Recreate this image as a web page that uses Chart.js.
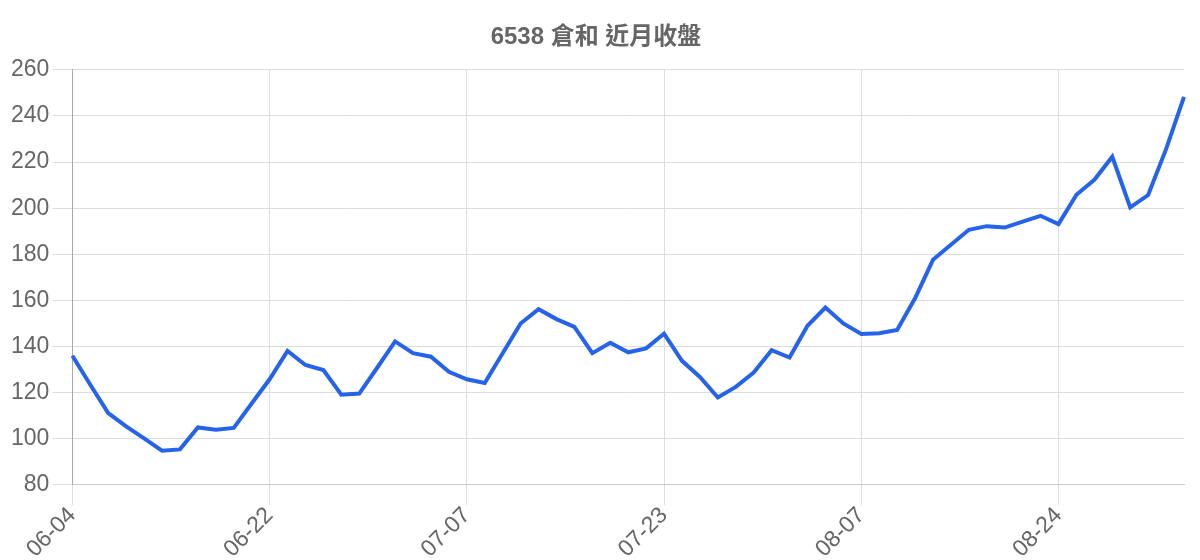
<!DOCTYPE html>
<html>
<head>
<meta charset="utf-8">
<title>6538 倉和 近月收盤</title>
<script src="https://cdn.jsdelivr.net/npm/chart.js@4.4.1/dist/chart.umd.min.js"></script>
<style>
	html, body { margin: 0; padding: 0; background: #fff; }
	#wrap { width: 1200px; height: 560px; }
</style>
</head>
<body>
<div id="wrap"><canvas id="mycanvas"></canvas></div>
<script>
var chartTitle = "6538 倉和 近月收盤";

var dates = [
	"06-04", "06-05", "06-06", "06-09", "06-10", "06-11", "06-12", "06-13", "06-16", "06-17", "06-18",
	"06-22", "06-23", "06-24", "06-25", "06-26", "06-29", "06-30", "07-01", "07-02", "07-03", "07-06",
	"07-07", "07-08", "07-09", "07-10", "07-13", "07-14", "07-15", "07-16", "07-17", "07-20", "07-21",
	"07-23", "07-24", "07-27", "07-28", "07-29", "07-30", "07-31", "08-03", "08-04", "08-05", "08-06",
	"08-07", "08-10", "08-11", "08-12", "08-13", "08-14", "08-17", "08-18", "08-19", "08-20", "08-21",
	"08-24", "08-25", "08-26", "08-27", "08-28", "08-31", "09-01", "09-02"
];

var closePrice = [
	136, 123.4, 111.1, 105.4, 100.2, 94.8, 95.4, 104.9, 103.9, 104.7, 115.3,
	125.8, 138.1, 132, 129.8, 119.1, 119.6, 130.8, 142.2, 137.1, 135.6, 129,
	125.8, 124.2, 137.1, 150, 156.2, 151.9, 148.5, 137.1, 141.6, 137.5, 139.2,
	145.6, 133.8, 126.8, 117.9, 122.5, 128.7, 138.4, 135.2, 149, 156.9, 150,
	145.4, 145.8, 147.2, 160.9, 177.6, 184.1, 190.6, 192.2, 191.6, 194.2, 196.7,
	193.1, 205.8, 212.3, 222.3, 200.3, 205.7, 225.6, 248.3
];

var yMin = 80;
var yMax = 260;
var yStep = 20;
var labelEvery = 11;

var ctx = document.getElementById("mycanvas");

var lineChart = new Chart(ctx, {
	type: 'line',
	data: {
		labels: dates,
		datasets: [
			{
				label: '收盤',
				data: closePrice,
				borderColor: 'rgb(37, 99, 235)',
				backgroundColor: 'rgb(37, 99, 235)',
				borderWidth: 4,
				pointRadius: 0,
				tension: 0,
				fill: false
			}
		]
	},
	options: {
		responsive: true,
		maintainAspectRatio: false,
		animation: false,
		layout: { padding: { left: 8, right: 16, top: 11, bottom: 0 } },
		plugins: {
			legend: { display: false },
			tooltip: { enabled: false },
			title: {
				display: true,
				text: chartTitle,
				color: '#666',
				font: { family: "'Liberation Sans', 'Noto Sans CJK TC', sans-serif", size: 24, weight: 'bold' },
				padding: { top: 12, bottom: 18 }
			}
		},
		scales: {
			x: {
				offset: false,
				// only every 11th date gets a tick, label and grid line
				afterBuildTicks: function(axis) {
					axis.ticks = axis.ticks.filter(function(t, i) { return i % labelEvery === 0; });
				},
				ticks: {
					autoSkip: false,
					minRotation: 45,
					maxRotation: 45,
					padding: -3,
					color: '#666',
					font: { family: "'Liberation Sans', sans-serif", size: 23 }
				},
				grid: { color: '#ddd', tickLength: 20 },
				border: { color: '#ccc' }
			},
			y: {
				min: yMin,
				max: yMax,
				ticks: {
					stepSize: yStep,
					color: '#666',
					padding: 3,
					font: { family: "'Liberation Sans', sans-serif", size: 23 }
				},
				grid: { color: '#ddd', tickLength: 20 },
				border: { color: '#aaa' }
			}
		}
	}
});
</script>
</body>
</html>
